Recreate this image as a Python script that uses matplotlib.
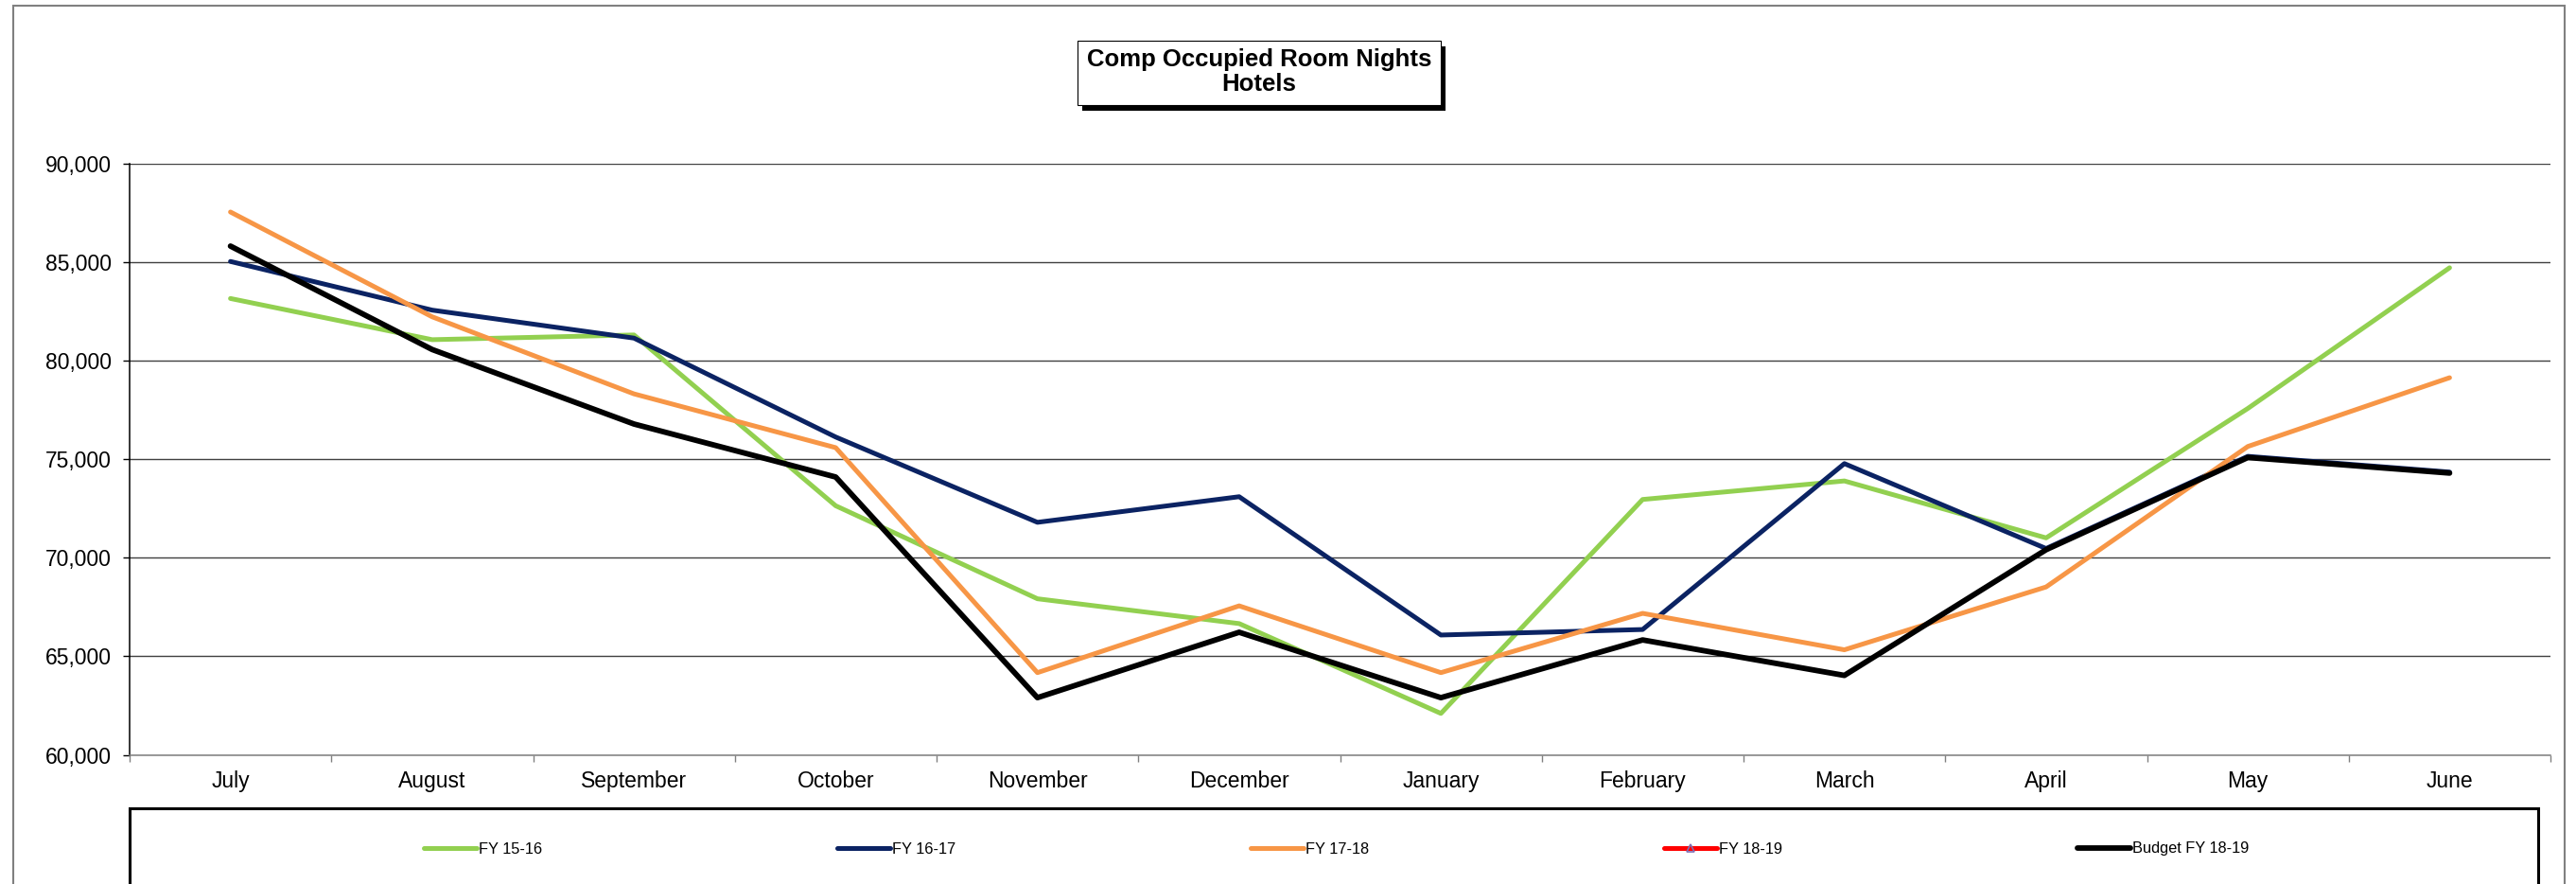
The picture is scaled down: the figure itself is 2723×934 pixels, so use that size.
import matplotlib.pyplot as plt
from matplotlib.patches import Rectangle
from matplotlib.ticker import FuncFormatter
import numpy as np

plt.rcParams['font.family'] = ['Liberation Sans', 'DejaVu Sans']

# monthly comp occupied room nights, fiscal year runs July -> June
months = ['July', 'August', 'September', 'October', 'November', 'December',
          'January', 'February', 'March', 'April', 'May', 'June']
fy_15_16 = [83160, 81070, 81310, 72640, 67920, 66660, 62100, 72960, 73900, 71010, 77580, 84720]
fy_16_17 = [85040, 82570, 81150, 76130, 71800, 73100, 66080, 66360, 74780, 70470, 75150, 74350]
fy_17_18 = [87550, 82230, 78320, 75590, 64170, 67560, 64170, 67180, 65330, 68520, 75650, 79140]
fy_18_19 = []  # no actuals yet
budget_18_19 = [85820, 80570, 76790, 74100, 62900, 66220, 62900, 65830, 64030, 70410, 75090, 74300]

W, H = 2723, 934


def fx(px):
    return px / W


def fy(py):
    return 1 - py / H


fig = plt.figure(figsize=(W / 100, H / 100), dpi=100)

# outer chart border
fig.add_artist(Rectangle((fx(14), fy(1000)), fx(2711) - fx(14), fy(6) - fy(1000),
                         transform=fig.transFigure, fill=False,
                         edgecolor='#808080', lw=1.5, clip_on=False))

ax = fig.add_axes([fx(137), fy(797.5), fx(2696) - fx(137), fy(173) - fy(797.5)])

x = np.arange(len(months))
line_kw = dict(solid_capstyle='round', solid_joinstyle='round')
ax.plot(x, fy_15_16, color='#92D050', lw=3.6, label='FY 15-16', **line_kw)
ax.plot(x, fy_16_17, color='#0B2363', lw=3.6, label='FY 16-17', **line_kw)
ax.plot(x, fy_17_18, color='#F79646', lw=3.6, label='FY 17-18', **line_kw)
ax.plot(x[:len(fy_18_19)], fy_18_19, color='#FF0000', lw=3.6, label='FY 18-19',
        marker='^', ms=6, mfc='none', mec='#7F6FB5', mew=1.2, **line_kw)
ax.plot(x, budget_18_19, color='black', lw=4.2, label='Budget FY 18-19', **line_kw)

ax.set_xlim(-0.5, 11.5)
ax.set_ylim(60000, 90000)
ax.set_yticks(np.arange(60000, 90001, 5000))
ax.yaxis.set_major_formatter(FuncFormatter(lambda v, p: f'{v:,.0f}'))
ax.grid(axis='y', color='#404040', lw=1.0)
ax.set_axisbelow(True)

for side in ['top', 'right']:
    ax.spines[side].set_visible(False)
ax.spines['left'].set_color('black')
ax.spines['left'].set_linewidth(1.1)
ax.spines['bottom'].set_color('#808080')
ax.spines['bottom'].set_linewidth(1.1)

ax.set_xticks(x)
ax.set_xticklabels(months)
ax.set_xticks(np.arange(-0.5, 12, 1), minor=True)
ax.tick_params(axis='x', which='major', length=0, pad=12, labelsize=16.5)
ax.tick_params(axis='x', which='minor', length=5, width=1, color='#808080')
ax.tick_params(axis='y', length=5, width=1, pad=9, labelsize=16.5)

# title box with drop shadow
tx0, tx1, ty0, ty1 = 1139, 1523, 43, 111
fig.add_artist(Rectangle((fx(tx0 + 5), fy(ty1 + 6)), fx(tx1) - fx(tx0), fy(ty0) - fy(ty1),
                         transform=fig.transFigure, facecolor='black', edgecolor='none'))
fig.add_artist(Rectangle((fx(tx0), fy(ty1)), fx(tx1) - fx(tx0), fy(ty0) - fy(ty1),
                         transform=fig.transFigure, facecolor='white',
                         edgecolor='black', lw=0.8))
fig.text(fx((tx0 + tx1) / 2), fy(76), 'Comp Occupied Room Nights\nHotels',
         ha='center', va='center', fontsize=18.5, fontweight='bold', linespacing=1.15)

# legend frame along the bottom
fig.add_artist(Rectangle((fx(137), fy(1000)), fx(2683) - fx(137), fy(854) - fy(1000),
                         transform=fig.transFigure, fill=False,
                         edgecolor='black', lw=2.2, clip_on=False))

legend_x = [448, 885, 1322, 1759, 2196]
for line, lx in zip(ax.get_lines(), legend_x):
    fig.legend([line], [line.get_label()], loc='center left',
               bbox_to_anchor=(fx(lx), fy(897)), frameon=False,
               borderpad=0, borderaxespad=0, handlelength=3.4,
               handletextpad=0.15, fontsize=11.8, numpoints=1)

fig.savefig('out.png', dpi=100)
plt.close(fig)
